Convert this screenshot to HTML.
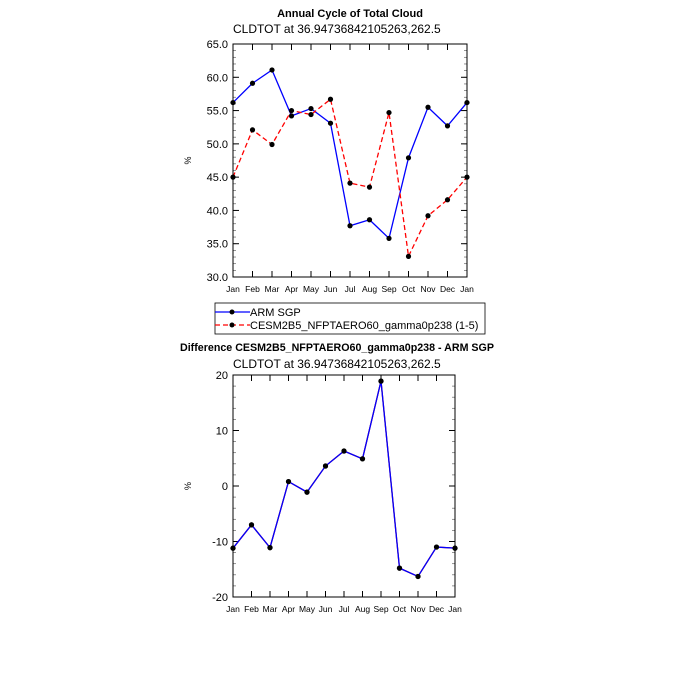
<!DOCTYPE html>
<html><head><meta charset="utf-8"><style>
body{margin:0;background:#fff}
svg{display:block;font-family:"Liberation Sans",sans-serif}
</style></head><body>
<svg id="c" width="675" height="675" viewBox="0 0 675 675">
<text x="350" y="17" text-anchor="middle" font-weight="bold" font-size="11">Annual Cycle of Total Cloud</text>
<text x="233" y="33" font-size="12">CLDTOT at 36.94736842105263,262.5</text>
<text x="337" y="351" text-anchor="middle" font-weight="bold" font-size="11" textLength="314" lengthAdjust="spacingAndGlyphs">Difference CESM2B5_NFPTAERO60_gamma0p238 - ARM SGP</text>
<text x="233" y="368" font-size="12">CLDTOT at 36.94736842105263,262.5</text>
<g id="top"></g><g id="bot"></g>
<g>
<rect x="215" y="303" width="270" height="31" fill="none" stroke="#000" stroke-width="0.8"/>
<line x1="215" y1="312" x2="250" y2="312" stroke="#00f" stroke-width="1.3"/><circle cx="232" cy="312" r="2.5"/>
<text x="250" y="316" font-size="11">ARM SGP</text>
<line x1="215" y1="325" x2="250" y2="325" stroke="#f00" stroke-width="1.3" stroke-dasharray="5,3"/><circle cx="232" cy="325" r="2.5"/>
<text x="250" y="329" font-size="11">CESM2B5_NFPTAERO60_gamma0p238 (1-5)</text>
</g>
</svg>
<script>
const months=["Jan","Feb","Mar","Apr","May","Jun","Jul","Aug","Sep","Oct","Nov","Dec","Jan"];
const armValues=[56.2,59.1,61.1,54.2,55.3,53.1,37.7,38.6,35.8,47.9,55.5,52.7,56.2];
const modelValues=[45.0,52.1,49.9,55.0,54.4,56.7,44.1,43.5,54.7,33.1,39.2,41.6,45.0];
const diffValues=[-11.2,-7.0,-11.1,0.8,-1.1,3.6,6.3,4.9,18.9,-14.8,-16.3,-11.0,-11.2];
const topTicks=["30.0","35.0","40.0","45.0","50.0","55.0","60.0","65.0"];
const botTicks=["-20","-10","0","10","20"];
const NS="http://www.w3.org/2000/svg";
function mk(p,t,a){const e=document.createElementNS(NS,t);for(const k in a)e.setAttribute(k,a[k]);p.appendChild(e);return e;}
function panel(g,x0,x1,y0,y1,vmin,vmax,ticks,minorStep,series,name){
  const sx=i=>x0+(x1-x0)*i/(months.length-1);
  const sy=v=>y1-(v-vmin)/(vmax-vmin)*(y1-y0);
  for(let v=vmin;v<=vmax+1e-9;v+=minorStep){
    const y=sy(v);
    mk(g,'line',{x1:x0,x2:x0+3,y1:y,y2:y,stroke:'#666','stroke-width':0.7});
    mk(g,'line',{x1:x1-3,x2:x1,y1:y,y2:y,stroke:'#666','stroke-width':0.7});
  }
  ticks.forEach(t=>{const v=parseFloat(t),y=sy(v);
    mk(g,'line',{x1:x0,x2:x0+6,y1:y,y2:y,stroke:'#000','stroke-width':1});
    mk(g,'line',{x1:x1-6,x2:x1,y1:y,y2:y,stroke:'#000','stroke-width':1});
    const tx=mk(g,'text',{x:x0-5,y:y+4,'text-anchor':'end','font-size':11});tx.textContent=t;
    
    
  });
  months.forEach((m,i)=>{const x=sx(i);
    mk(g,'line',{x1:x,x2:x,y1:y1-6,y2:y1,stroke:'#000','stroke-width':1});
    mk(g,'line',{x1:x,x2:x,y1:y0,y2:y0+6,stroke:'#000','stroke-width':1});
    const tx=mk(g,'text',{x:x,y:y1+15,'text-anchor':'middle','font-size':8.5});tx.textContent=m;
    
    
  });
  const fr=mk(g,'rect',{x:x0,y:y0,width:x1-x0,height:y1-y0,fill:'none',stroke:'#000','stroke-width':1});
  
  
  const yl=mk(g,'text',{x:0,y:0,'font-size':9,transform:`translate(${x0-42},${(y0+y1)/2}) rotate(-90)`,'text-anchor':'middle'});yl.textContent='%';
  
  
  series.forEach(s=>{
    const pl=mk(g,'polyline',{points:s.vals.map((v,i)=>sx(i)+','+sy(v)).join(' '),fill:'none',stroke:s.color,'stroke-width':1.3,'stroke-dasharray':s.dash||'none'});
    
    
    s.vals.forEach((v,i)=>{const c=mk(g,'circle',{cx:sx(i),cy:sy(v),r:2.6,fill:'#000'});
      
      });
  });
}
panel(document.getElementById('top'),233,467,44,277,30,65,topTicks,1,
 [{vals:armValues,color:'#00f',name:'arm'},{vals:modelValues,color:'#f00',dash:'5,3',name:'model'}],'top');
panel(document.getElementById('bot'),233,455,375,597,-20,20,botTicks,2,
 [{vals:diffValues,color:'#c00',name:'diff-under'},{vals:diffValues,color:'#00f',name:'diff'}],'bottom');
</script>
</body></html>
